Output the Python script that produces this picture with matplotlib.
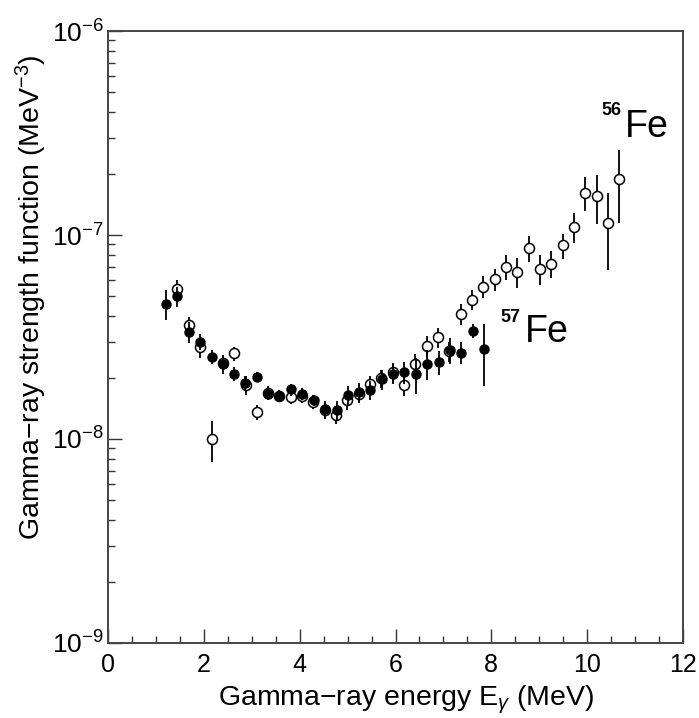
import matplotlib
matplotlib.use("Agg")
import matplotlib.pyplot as plt
import numpy as np
from matplotlib.ticker import FixedLocator, LogLocator, MultipleLocator, NullFormatter

plt.rcParams['font.family'] = ['Liberation Sans', 'DejaVu Sans']
plt.rcParams['mathtext.fontset'] = 'custom'
plt.rcParams['mathtext.rm'] = 'Liberation Sans'
plt.rcParams['mathtext.it'] = 'Liberation Sans:italic'
plt.rcParams['mathtext.bf'] = 'Liberation Sans:bold'

# 56Fe (open circles)
e56 = [1.45, 1.69, 1.92, 2.16, 2.39, 2.63, 2.87, 3.10, 3.34, 3.57, 3.81, 4.05, 4.28,
       4.52, 4.76, 4.99, 5.23, 5.47, 5.70, 5.94, 6.18, 6.41, 6.65, 6.89, 7.12, 7.36,
       7.60, 7.83, 8.07, 8.31, 8.54, 8.78, 9.02, 9.25, 9.49, 9.73, 9.96, 10.20, 10.44, 10.67]
f56 = [5.45, 3.61, 2.82, 1.00, 2.37, 2.63, 1.84, 1.35, 1.68, 1.63, 1.60, 1.63, 1.52,
       1.38, 1.31, 1.55, 1.67, 1.85, 1.98, 2.13, 1.84, 2.34, 2.86, 3.15, 2.69, 4.10,
       4.82, 5.59, 6.08, 7.00, 6.58, 8.66, 6.85, 7.22, 8.92, 10.94, 16.15, 15.54, 11.40, 18.75]
err56 = [0.55, 0.36, 0.32, 0.23, 0.21, 0.21, 0.19, 0.11, 0.13, 0.11, 0.12, 0.13, 0.12,
         0.12, 0.13, 0.16, 0.17, 0.19, 0.20, 0.24, 0.21, 0.26, 0.35, 0.35, 0.30, 0.48,
         0.54, 0.69, 0.75, 0.98, 1.11, 1.26, 1.15, 1.09, 1.25, 1.84, 3.0, 4.2, 4.7, 7.3]

# 57Fe (filled circles)
e57 = [1.22, 1.45, 1.69, 1.92, 2.16, 2.39, 2.63, 2.86, 3.10, 3.34, 3.57, 3.81, 4.05,
       4.29, 4.53, 4.77, 5.00, 5.23, 5.47, 5.71, 5.95, 6.18, 6.42, 6.66, 6.90, 7.14,
       7.37, 7.61, 7.85]
f57 = [4.59, 5.00, 3.34, 3.00, 2.53, 2.32, 2.09, 1.89, 2.02, 1.66, 1.62, 1.75, 1.66,
       1.55, 1.40, 1.38, 1.64, 1.70, 1.74, 1.96, 2.09, 2.13, 2.08, 2.33, 2.39, 2.73,
       2.65, 3.40, 2.75]
err57 = [0.78, 0.56, 0.40, 0.27, 0.20, 0.23, 0.16, 0.15, 0.11, 0.11, 0.11, 0.12, 0.11,
         0.10, 0.14, 0.15, 0.18, 0.19, 0.18, 0.22, 0.23, 0.26, 0.42, 0.39, 0.32, 0.40,
         0.33, 0.27, 0.93]
scale = 1e-8

y_major = [1e-9, 1e-8, 1e-7, 1e-6]

W, H = 699, 718
fig = plt.figure(figsize=(W / 100, H / 100), dpi=100)
ax = fig.add_axes([108 / W, 1 - 643 / H, (683 - 108) / W, (643 - 31) / H])

ax.errorbar(e56, np.array(f56) * scale, yerr=np.array(err56) * scale, fmt='o',
            mfc='white', mec='black', mew=1.1, ms=7.2, ecolor='black', elinewidth=1.3,
            capsize=0, zorder=3)
ax.errorbar(e57, np.array(f57) * scale, yerr=np.array(err57) * scale, fmt='o',
            mfc='black', mec='black', ms=6.5, ecolor='black', elinewidth=1.3,
            capsize=0, zorder=4)

ax.set_yscale('log')
ax.set_xlim(0, 12)
ax.set_ylim(1e-9, 1e-6)
ax.xaxis.set_major_locator(MultipleLocator(2))
ax.xaxis.set_minor_locator(MultipleLocator(0.5))
ax.yaxis.set_major_locator(FixedLocator(y_major))
ax.yaxis.set_minor_locator(LogLocator(base=10, subs=np.arange(2, 10), numticks=20))
ax.yaxis.set_minor_formatter(NullFormatter())

ax.tick_params(which='both', direction='in', top=False, right=False, colors='#333333',
               labelcolor='black', width=1.0)
ax.tick_params(which='major', length=10)
ax.tick_params(which='minor', length=5)
ax.tick_params(axis='x', pad=7, labelsize=18)
ax.tick_params(axis='y', pad=3, labelsize=19)
for s in ax.spines.values():
    s.set_color('#444444')
    s.set_linewidth(1.4)

ax.set_xlabel(r'Gamma$-$ray energy E$_\gamma$ (MeV)', fontsize=20.5, labelpad=5)
ax.xaxis.label.set_x(0.518)
ax.set_ylabel(r'Gamma$-$ray strength function (MeV$^{-3}$)', fontsize=20.5, labelpad=2)
ax.yaxis.label.set_y(0.565)

# isotope labels
fig.text(601 / W, 1 - 115 / H, '56', fontsize=13, fontweight='bold', ha='left', va='baseline')
fig.text(625 / W, 1 - 137 / H, 'Fe', fontsize=27, ha='left', va='baseline')
fig.text(500 / W, 1 - 322 / H, '57', fontsize=13, fontweight='bold', ha='left', va='baseline')
fig.text(525 / W, 1 - 342 / H, 'Fe', fontsize=27, ha='left', va='baseline')

fig.savefig('out.png', dpi=100)
